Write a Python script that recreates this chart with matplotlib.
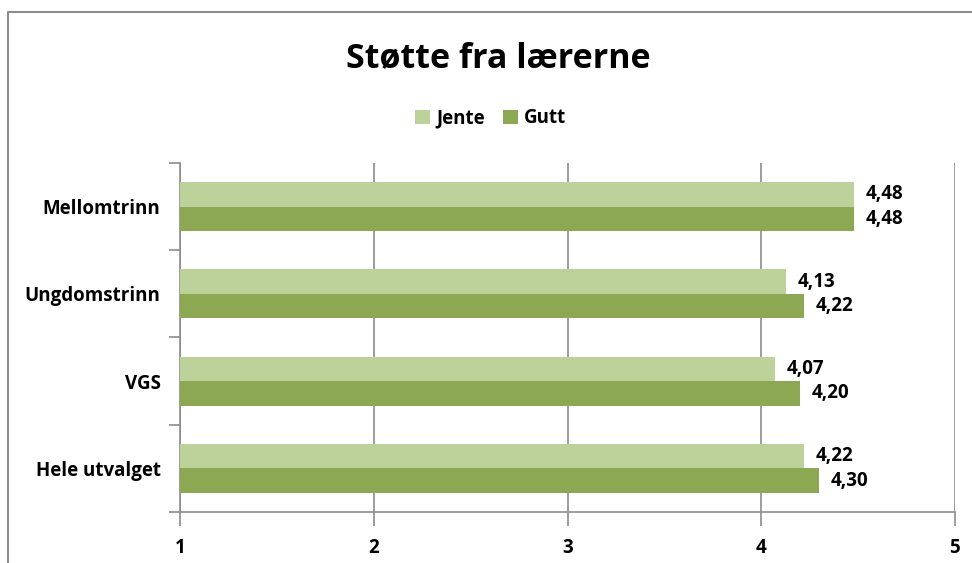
import numpy as np
import matplotlib
matplotlib.use("Agg")
import matplotlib.pyplot as plt
from matplotlib.lines import Line2D

plt.rcParams['font.family'] = ['Open Sans', 'DejaVu Sans']

# data
categories = ["Mellomtrinn", "Ungdomstrinn", "VGS", "Hele utvalget"]
jente = [4.48, 4.13, 4.07, 4.22]
gutt = [4.48, 4.22, 4.20, 4.30]
series_names = ["Jente", "Gutt"]
xticks = [1, 2, 3, 4, 5]

light = "#BDD19B"
dark = "#8CA852"
grid = "#8C8C8C"
fs = 13.5

fig = plt.figure(figsize=(9.72, 5.63), dpi=100)
ax = fig.add_axes([0.1852, 0.0906, 0.7973, 0.62])

y = np.arange(len(categories))[::-1]
h = 0.28
ax.barh(y + h / 2, [v - 1 for v in jente], left=1, height=h, color=light, label=series_names[0], zorder=3)
ax.barh(y - h / 2, [v - 1 for v in gutt], left=1, height=h, color=dark, label=series_names[1], zorder=3)

# value labels
for yi, v in zip(y, jente):
    ax.text(v + 0.06, yi + h / 2, f"{v:.2f}".replace(".", ","), va="center", ha="left",
            fontsize=fs, fontweight="bold")
for yi, v in zip(y, gutt):
    ax.text(v + 0.06, yi - h / 2, f"{v:.2f}".replace(".", ","), va="center", ha="left",
            fontsize=fs, fontweight="bold")

ax.set_xlim(1, 5)
ax.set_ylim(-0.5, len(categories) - 0.5)
ax.set_xticks(xticks)
ax.set_xticklabels([str(t) for t in xticks], fontsize=fs, fontweight="bold")
ax.tick_params(axis="x", length=10, color=grid, width=1.2, pad=9)

ax.set_yticks(y)
ax.set_yticklabels(categories, fontsize=fs, fontweight="bold")
ax.tick_params(axis="y", length=0, pad=14)
ax.set_yticks(np.arange(-0.5, len(categories), 1.0), minor=True)
ax.tick_params(axis="y", which="minor", length=8, color=grid, width=1.2)

ax.xaxis.grid(True, color=grid, linewidth=1.2, zorder=0)
for s in ["top", "right"]:
    ax.spines[s].set_visible(False)
for s in ["left", "bottom"]:
    ax.spines[s].set_color(grid)
    ax.spines[s].set_linewidth(1.2)

fig.text(0.513, 0.897, "Støtte fra lærerne", ha="center", va="center", fontsize=24.5, fontweight="bold")

leg = fig.legend(loc="center", bbox_to_anchor=(0.505, 0.79), ncol=2, frameon=False,
                 prop={"size": fs, "weight": "bold"}, handlelength=0.8, handleheight=0.8,
                 handletextpad=0.3, columnspacing=1.0)

# chart border
fig.add_artist(Line2D([8 / 972, 8 / 972, 1.0], [0.0, 1 - 12 / 563, 1 - 12 / 563],
                      transform=fig.transFigure, color="#8C8C8C", linewidth=1.5))

fig.savefig("out.png", dpi=100)
